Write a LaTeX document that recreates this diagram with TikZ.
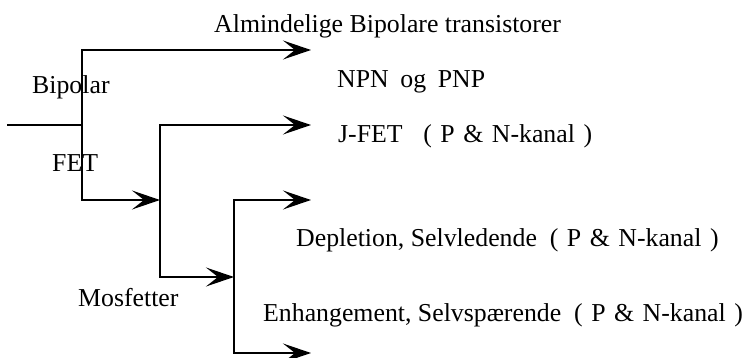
\documentclass[tikz,border=0pt]{standalone}
\usepackage{fontspec}
\setmainfont{Liberation Serif}
\usetikzlibrary{arrows.meta}
\newcommand{\pnkanal}{{\spaceskip=0.33em\relax ( P \& N-kanal )}}
\begin{document}
\begin{tikzpicture}[x=1pt,y=-1pt,
  >={Stealth[length=28pt,width=19pt,inset=12pt]},
  conn/.style={draw, line width=1.9pt, line join=miter},
  arr/.style={conn, ->},
  lbl/.style={anchor=base west, inner sep=0pt, font=\fontsize{25.8}{30}\selectfont}]
\useasboundingbox (0,0) rectangle (756,358);
% labels
\node[lbl] (tA) at (214,33) {Almindelige Bipolare transistorer};
\node[lbl] (tN) at (337,88) {NPN\hspace{0.45em}og\hspace{0.45em}PNP};
\node[lbl] (tJ) at (338,143) {J-FET\hspace{0.8em}\pnkanal};
\node[lbl] (tD) at (296,247) {Depletion, Selvledende\hspace{0.5em}\pnkanal};
\node[lbl] (tE) at (263,322) {Enhangement, Selvspærende\hspace{0.5em}\pnkanal};
\node[lbl] (tB) at (32,94) {Bipolar};
\node[lbl] (tF) at (52,172) {FET};
\node[lbl] (tM) at (78,307) {Mosfetter};
% junctions
\coordinate (in) at (7,125);
\coordinate (b1) at (82,125);
\coordinate (b1t) at (82,50);
\coordinate (b1b) at (82,200);
\coordinate (e1) at (311,50);
\coordinate (b2) at (160,200);
\coordinate (b2t) at (160,125);
\coordinate (b2b) at (160,277);
\coordinate (e2) at (311,125);
\coordinate (b3) at (234,277);
\coordinate (b3t) at (234,200);
\coordinate (b3b) at (234,353);
\coordinate (e3) at (311,200);
\coordinate (e4) at (311,353);
% connectors
\draw[conn] (in) -- (b1);
\draw[arr] (b1) -- (b1t) -- (e1);
\draw[arr] (b1) -- (b1b) -- (b2);
\draw[arr] (b2) -- (b2t) -- (e2);
\draw[arr] (b2) -- (b2b) -- (b3);
\draw[arr] (b3) -- (b3t) -- (e3);
\draw[arr] (b3) -- (b3b) -- (e4);
\end{tikzpicture}
\end{document}
